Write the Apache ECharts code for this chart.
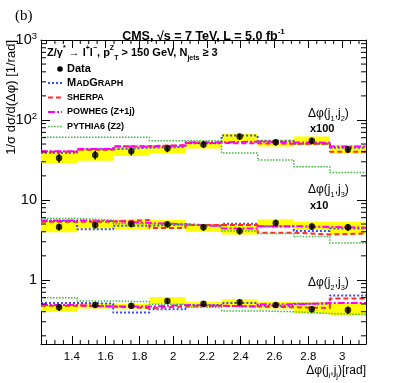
<!DOCTYPE html>
<html>
<head>
<meta charset="utf-8">
<script src="https://cdn.jsdelivr.net/npm/echarts@6/dist/echarts.min.js"></script>
<style>
html,body{margin:0;padding:0;background:#fff;}
#chart{width:407px;height:383px;}
</style>
</head>
<body>
<div id="chart"></div>
<script>
'use strict'
// axis range and bin edges (rad)
const xMin = 1.2176, xMax = 3.1416;
const yMin = 0.158, yMax = 1000;
const binEdges = [1.2176, 1.4314, 1.6452, 1.8589, 2.0727, 2.2865, 2.5003, 2.7140, 2.9278, 3.1416];

// dphi(j1,j2) x100
const data12 = [33.5, 36.5, 40.5, 44, 49.5, 62, 52.5, 55, 43];
const err12 = [4.3, 4.4, 4.5, 4.5, 4.8, 5.5, 4.8, 5, 4.3];
const bandLo12 = [29, 31, 35.5, 38, 44, 53, 46.5, 48.5, 38];
const bandHi12 = [40, 43.5, 46.5, 48.5, 53.5, 67, 57.5, 62, 48.5];
const mg12 = [39, 43, 45, 46, 51, 64, 54.5, 50.5, 45];
const sherpa12 = [40, 42.5, 47, 48.5, 51.5, 51, 50.5, 50.5, 40];
const powheg12 = [40.5, 43.5, 46.5, 48, 52.5, 53.5, 52.5, 52, 46.5];
const pythia12 = [61, 61, 61, 55, 55, 38.5, 31.5, 26, 22];

// dphi(j1,j3) x10
const data13 = [4.6, 4.85, 5.0, 4.95, 4.55, 4.1, 5.15, 4.65, 4.55];
const err13 = [0.45, 0.45, 0.45, 0.45, 0.45, 0.42, 0.5, 0.45, 0.45];
const bandLo13 = [3.95, 4.4, 4.3, 4.4, 4.0, 3.7, 4.5, 4.2, 3.7];
const bandHi13 = [5.45, 5.6, 5.75, 5.6, 5.05, 5.05, 5.75, 5.35, 5.35];
const mg13 = [5.45, 4.3, 4.75, 4.95, 4.75, 5.05, 4.65, 4.1, 4.4];
const sherpa13 = [5.35, 5.35, 5.6, 4.45, 4.85, 4.85, 3.9, 3.7, 3.8];
const powheg13 = [5.55, 5.45, 5.15, 4.95, 4.7, 4.4, 4.7, 4.6, 4.5];
const pythia13 = [5.85, 5.6, 5.05, 4.9, 4.75, 4.1, 3.8, 3.5, 2.9];

// dphi(j2,j3)
const data23 = [0.455, 0.485, 0.475, 0.545, 0.505, 0.525, 0.485, 0.43, 0.42];
const err23 = [0.045, 0.04, 0.04, 0.045, 0.04, 0.045, 0.04, 0.04, 0.045];
const bandLo23 = [0.4, 0.44, 0.44, 0.5, 0.46, 0.46, 0.44, 0.38, 0.36];
const bandHi23 = [0.485, 0.515, 0.505, 0.61, 0.535, 0.575, 0.535, 0.525, 0.515];
const mg23 = [0.515, 0.505, 0.39, 0.43, 0.485, 0.515, 0.475, 0.505, 0.64];
const sherpa23 = [0.475, 0.465, 0.445, 0.465, 0.475, 0.465, 0.455, 0.445, 0.585];
const powheg23 = [0.485, 0.465, 0.465, 0.485, 0.475, 0.465, 0.495, 0.515, 0.515];
const pythia23 = [0.6, 0.545, 0.535, 0.495, 0.455, 0.41, 0.4, 0.38, 0.37];

const groups = [
  {data: data12, err: err12, lo: bandLo12, hi: bandHi12, mc: [mg12, sherpa12, powheg12, pythia12]},
  {data: data13, err: err13, lo: bandLo13, hi: bandHi13, mc: [mg13, sherpa13, powheg13, pythia13]},
  {data: data23, err: err23, lo: bandLo23, hi: bandHi23, mc: [mg23, sherpa23, powheg23, pythia23]}
];

const mcStyles = [
  {name: 'MadGraph', color: '#3a4dff', type: [2, 2], width: 2},
  {name: 'Sherpa', color: '#ff2a2a', type: [5, 3], width: 2},
  {name: 'Powheg', color: '#ff00ff', type: [7, 2, 2, 2], width: 2},
  {name: 'Pythia', color: '#3cba3c', type: [1.5, 1.5], width: 1.5}
];

const FONT = 'Liberation Sans, Arial, sans-serif';

// minor tick positions (axis decoration only)
const yMinorTicks = [];
[0.1, 1, 10, 100].forEach(d => { for (let k = 2; k <= 9; k++) { const v = d * k; if (v > yMin) yMinorTicks.push(v); } });
const xMinorTicks = [];
for (let k = 25; k <= 62; k++) { const v = k * 0.05; if (k % 4 !== 0 && v > xMin && v < xMax) xMinorTicks.push(v); }

let series = [];
const centers = binEdges.slice(0, 9).map((e, i) => (e + binEdges[i + 1]) / 2);

groups.forEach(g => {
  series.push({
    type: 'custom', z: 1, silent: true,
    data: g.lo.map((lo, i) => [binEdges[i], binEdges[i + 1], lo, g.hi[i]]),
    encode: {x: [0, 1], y: [2, 3]},
    renderItem: (params, api) => {
      const p0 = api.coord([api.value(0), api.value(3)]);
      const p1 = api.coord([api.value(1), api.value(2)]);
      return {type: 'rect', shape: {x: p0[0], y: p0[1], width: p1[0] - p0[0], height: p1[1] - p0[1]}, style: {fill: '#ffff00'}};
    }
  });
});
groups.forEach(g => {
  g.mc.forEach((vals, k) => {
    const s = mcStyles[k];
    series.push({
      name: s.name, type: 'line', step: 'end', symbol: 'none', z: 2 + k * 0.1,
      data: binEdges.map((e, i) => [e, vals[Math.min(i, 8)]]),
      lineStyle: {color: s.color, width: s.width, type: s.type}
    });
  });
});
groups.forEach(g => {
  series.push({
    type: 'custom', z: 4, silent: true,
    data: g.data.map((v, i) => [centers[i], v - g.err[i], v + g.err[i]]),
    encode: {x: 0, y: [1, 2]},
    renderItem: (params, api) => {
      const a = api.coord([api.value(0), api.value(1)]);
      const b = api.coord([api.value(0), api.value(2)]);
      return {type: 'line', shape: {x1: a[0], y1: a[1], x2: b[0], y2: b[1]}, style: {stroke: '#000', lineWidth: 1.5}};
    }
  });
  series.push({
    name: 'Data', type: 'scatter', z: 5, symbol: 'circle', symbolSize: 6.5,
    itemStyle: {color: '#000'},
    data: g.data.map((v, i) => [centers[i], v])
  });
});
// minor ticks on the frame
series.push({
  type: 'custom', z: 6, silent: true, clip: false,
  data: yMinorTicks.map(v => [xMin, v]),
  renderItem: (params, api) => {
    const l = api.coord([xMin, api.value(1)]);
    const r = api.coord([xMax, api.value(1)]);
    return {type: 'group', children: [
      {type: 'line', shape: {x1: l[0], y1: l[1], x2: l[0] + 5, y2: l[1]}, style: {stroke: '#000', lineWidth: 1}},
      {type: 'line', shape: {x1: r[0] - 5, y1: r[1], x2: r[0], y2: r[1]}, style: {stroke: '#000', lineWidth: 1}}
    ]};
  }
});
series.push({
  type: 'custom', z: 6, silent: true, clip: false,
  data: xMinorTicks.map(v => [v, yMin]),
  renderItem: (params, api) => {
    const b = api.coord([api.value(0), yMin]);
    const t = api.coord([api.value(0), yMax]);
    return {type: 'group', children: [
      {type: 'line', shape: {x1: b[0], y1: b[1], x2: b[0], y2: b[1] - 4}, style: {stroke: '#000', lineWidth: 1}},
      {type: 'line', shape: {x1: t[0], y1: t[1], x2: t[0], y2: t[1] + 4}, style: {stroke: '#000', lineWidth: 1}}
    ]};
  }
});

const supLabel = {'10': '', '100': '2', '1000': '3'};
const axisLineStyle = {lineStyle: {color: '#000', width: 1}};

const txtRich = {
  n: {fontFamily: FONT, fontSize: 11, fontWeight: 'bold', lineHeight: 17, verticalAlign: 'middle', color: '#000'},
  sp: {fontFamily: FONT, fontSize: 7, fontWeight: 'bold', lineHeight: 9, verticalAlign: 'top', color: '#000'},
  sb: {fontFamily: FONT, fontSize: 7, fontWeight: 'bold', lineHeight: 9, verticalAlign: 'bottom', color: '#000'},
  r: {fontFamily: FONT, fontSize: 12, lineHeight: 17, verticalAlign: 'middle', color: '#000'},
  rb: {fontFamily: FONT, fontSize: 7.5, lineHeight: 9, verticalAlign: 'bottom', color: '#000'}
};
const capRich = {
  L: {fontFamily: FONT, fontSize: 11, fontWeight: 'bold', lineHeight: 11, verticalAlign: 'bottom', color: '#000'},
  S: {fontFamily: FONT, fontSize: 9, fontWeight: 'bold', lineHeight: 9, verticalAlign: 'bottom', color: '#000'}
};

const legendItems = [
  {y: 83, style: mcStyles[0], text: '{L|M}{S|AD}{L|G}{S|RAPH}'},
  {y: 97.5, style: mcStyles[1], text: '{S|SHERPA}'},
  {y: 112, style: mcStyles[2], text: '{S|POWHEG (Z+1j)}'},
  {y: 126.5, style: mcStyles[3], text: '{S|PYTHIA6 (Z2)}'}
];
let graphics = [
  {type: 'text', x: 15, y: 16, style: {text: '(b)', font: '15px Liberation Serif, Times New Roman, serif', fill: '#000', verticalAlign: 'middle'}},
  {type: 'text', x: 11, y: 40, rotation: Math.PI / 2,
    style: {text: '1/σ dσ/d(Δφ) [1/rad]', font: '13px ' + FONT, fill: '#000', align: 'right', verticalAlign: 'middle'}},
  {type: 'text', x: 366, y: 371,
    style: {text: '{r|Δφ(j}{rb|i}{r|,j}{rb|j}{r|)[rad]}', rich: txtRich, align: 'right', verticalAlign: 'middle'}},
  {type: 'text', x: 47, y: 53,
    style: {text: '{n|Z/γ}{sp|*}{n| → l}{sp|+}{n|l}{sp|−}{n|, p}{sp|Z}{sb|T}{n| > 150 GeV, N}{sb|jets}{n| ≥ 3}', rich: txtRich, verticalAlign: 'middle'}},
  {type: 'circle', shape: {cx: 60, cy: 69, r: 2.8}, style: {fill: '#000'}},
  {type: 'text', x: 67, y: 69, style: {text: 'Data', font: 'bold 11px ' + FONT, fill: '#000', verticalAlign: 'middle'}},
  {type: 'text', x: 308, y: 114, style: {text: '{r|Δφ(j}{rb|1}{r|,j}{rb|2}{r|)}', rich: txtRich, verticalAlign: 'middle'}},
  {type: 'text', x: 310, y: 129, style: {text: 'x100', font: 'bold 11px ' + FONT, fill: '#000', verticalAlign: 'middle'}},
  {type: 'text', x: 308, y: 190, style: {text: '{r|Δφ(j}{rb|1}{r|,j}{rb|3}{r|)}', rich: txtRich, verticalAlign: 'middle'}},
  {type: 'text', x: 310, y: 206, style: {text: 'x10', font: 'bold 11px ' + FONT, fill: '#000', verticalAlign: 'middle'}},
  {type: 'text', x: 308, y: 283, style: {text: '{r|Δφ(j}{rb|2}{r|,j}{rb|3}{r|)}', rich: txtRich, verticalAlign: 'middle'}}
];
legendItems.forEach(it => {
  graphics.push({type: 'line', shape: {x1: 48, y1: it.y, x2: 62, y2: it.y},
    style: {stroke: it.style.color, lineWidth: it.style.width, lineDash: it.style.type}});
  graphics.push({type: 'text', x: 67, y: it.y, style: {text: it.text, rich: capRich, verticalAlign: 'middle'}});
});

const option = {
  animation: false,
  backgroundColor: '#fff',
  title: {
    text: '{t|CMS, √s = 7 TeV, L = 5.0 fb}{s|-1}',
    left: 'center', top: 23,
    textStyle: {rich: {
      t: {fontFamily: FONT, fontSize: 12.5, fontWeight: 'bold', lineHeight: 18, verticalAlign: 'middle', color: '#000'},
      s: {fontFamily: FONT, fontSize: 8, fontWeight: 'bold', lineHeight: 10, verticalAlign: 'top', color: '#000'}
    }}
  },
  grid: {left: 41, right: 41, top: 40, bottom: 39},
  xAxis: [{
    type: 'value', min: xMin, max: xMax, splitNumber: 10, position: 'bottom',
    axisLine: axisLineStyle,
    axisTick: {inside: true, length: 8, lineStyle: {color: '#000'}},
    axisLabel: {color: '#000', fontFamily: FONT, fontSize: 11.5, margin: 7, showMinLabel: false, showMaxLabel: false},
    splitLine: {show: false}
  }, {
    type: 'value', min: xMin, max: xMax, splitNumber: 10, position: 'top',
    axisLine: axisLineStyle,
    axisTick: {inside: true, length: 8, lineStyle: {color: '#000'}},
    axisLabel: {show: false},
    splitLine: {show: false}
  }],
  yAxis: [{
    type: 'log', min: yMin, max: yMax, position: 'left',
    axisLine: axisLineStyle,
    axisTick: {inside: true, length: 9, lineStyle: {color: '#000'}},
    axisLabel: {
      color: '#000', margin: 4, showMinLabel: false,
      formatter: v => {
        const r = Math.round(v);
        if (Math.abs(v - 1) < 1e-6) return '{b|1}';
        if (supLabel[r] === undefined) return '';
        return supLabel[r] ? '{b|10}{s|' + supLabel[r] + '}' : '{b|10}';
      },
      rich: {
        b: {fontFamily: FONT, fontSize: 14.5, lineHeight: 18, verticalAlign: 'middle', color: '#000'},
        s: {fontFamily: FONT, fontSize: 9.5, lineHeight: 12, verticalAlign: 'top', color: '#000'}
      }
    },
    splitLine: {show: false}
  }, {
    type: 'log', min: yMin, max: yMax, position: 'right',
    axisLine: axisLineStyle,
    axisTick: {inside: true, length: 9, lineStyle: {color: '#000'}},
    axisLabel: {show: false},
    splitLine: {show: false}
  }],
  graphic: graphics,
  series: series
};

let myChart = echarts.init(document.getElementById('chart'));
myChart.setOption(option);
</script>
</body>
</html>
